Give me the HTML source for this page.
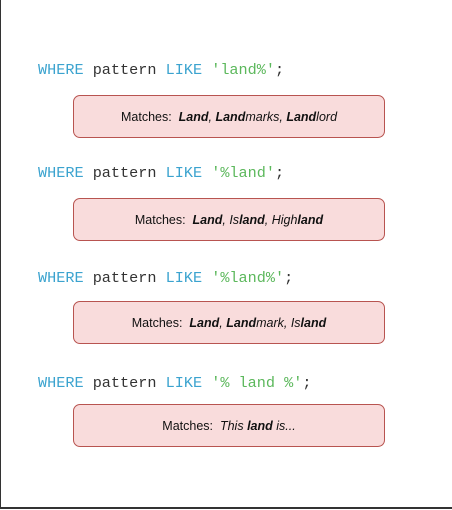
<!DOCTYPE html>
<html><head><style>
body{margin:0;width:452px;height:510px;position:relative;background:#fff;overflow:hidden}
.frame{position:absolute;left:0;top:0;width:451px;height:507px;border-left:1px solid #333;border-bottom:2px solid #333}
.code{position:absolute;left:38px;font:15.2px "Liberation Mono",monospace;color:#333;white-space:pre;line-height:20px}
.k{color:#3ba3cf}.s{color:#5cb85c}
.box{position:absolute;left:73px;width:310px;height:41px;border:1px solid #b85450;border-radius:7px;background:#f9dcdc;font:12.5px "Liberation Sans",sans-serif;color:#111;display:flex;align-items:center;justify-content:center;white-space:pre}
</style></head><body>
<div class="frame"></div>
<div class="code" style="top:60px"><span class="k">WHERE</span> pattern <span class="k">LIKE</span> <span class="s">'land%'</span>;</div>
<div class="box" style="top:95px">Matches:  <i><b>Land</b>, <b>Land</b>marks, <b>Land</b>lord</i></div>
<div class="code" style="top:163px"><span class="k">WHERE</span> pattern <span class="k">LIKE</span> <span class="s">'%land'</span>;</div>
<div class="box" style="top:198px">Matches:  <i><b>Land</b>, Is<b>land</b>, High<b>land</b></i></div>
<div class="code" style="top:268px"><span class="k">WHERE</span> pattern <span class="k">LIKE</span> <span class="s">'%land%'</span>;</div>
<div class="box" style="top:301px">Matches:  <i><b>Land</b>, <b>Land</b>mark, Is<b>land</b></i></div>
<div class="code" style="top:373px"><span class="k">WHERE</span> pattern <span class="k">LIKE</span> <span class="s">'% land %'</span>;</div>
<div class="box" style="top:404px">Matches:  <i>This <b>land</b> is...</i></div>
</body></html>
